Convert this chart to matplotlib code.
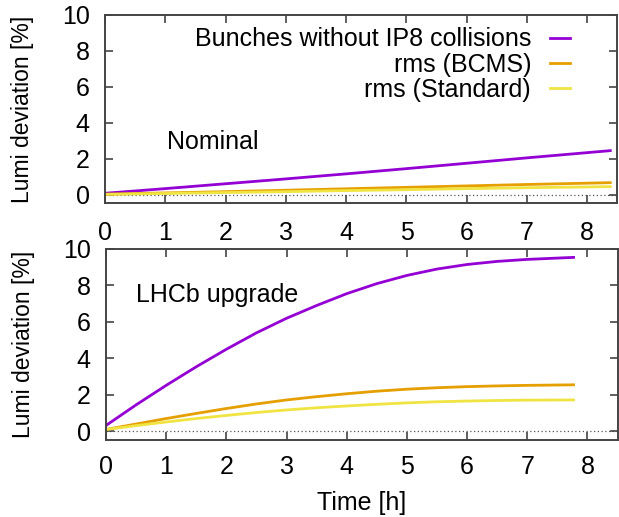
import numpy as np
import matplotlib.pyplot as plt

plt.rcParams['font.family'] = ['Liberation Sans', 'DejaVu Sans']

# time axis [h] and luminosity deviations [%]
t_nom = [0, 1, 2, 3, 4, 5, 6, 7, 8.38]
nom_bunches = [0.09, 0.35, 0.62, 0.89, 1.17, 1.46, 1.76, 2.06, 2.46]
nom_bcms = [0.04, 0.11, 0.18, 0.26, 0.34, 0.42, 0.50, 0.58, 0.68]
nom_std = [0.03, 0.08, 0.13, 0.18, 0.24, 0.29, 0.35, 0.40, 0.46]

t_up = [0, 0.5, 1, 1.5, 2, 2.5, 3, 3.5, 4, 4.5, 5, 5.5, 6, 6.5, 7, 7.77]
up_bunches = [0.32, 1.45, 2.52, 3.54, 4.5, 5.4, 6.2, 6.9, 7.55, 8.1, 8.55, 8.9, 9.15, 9.32, 9.43, 9.54]
up_bcms = [0.10, 0.40, 0.70, 0.98, 1.25, 1.50, 1.72, 1.90, 2.06, 2.20, 2.31, 2.39, 2.45, 2.49, 2.52, 2.55]
up_std = [0.10, 0.31, 0.51, 0.70, 0.87, 1.03, 1.17, 1.29, 1.39, 1.48, 1.56, 1.62, 1.66, 1.69, 1.71, 1.72]

labels = ['Bunches without IP8 collisions', 'rms (BCMS)', 'rms (Standard)']
colors = ['#9400d3', '#e69f00', '#f0e442']
xticks = [0, 1, 2, 3, 4, 5, 6, 7, 8]
yticks = [0, 2, 4, 6, 8, 10]

fs = 18

fig = plt.figure(figsize=(6.19, 5.17), dpi=100)
ax1 = fig.add_axes([105/619, 1 - 203/517, 512.5/619, 188/517])
ax2 = fig.add_axes([106/619, 1 - 439.5/517, 511.5/619, 190.5/517])

for ax, t, series in [(ax1, t_nom, [nom_bunches, nom_bcms, nom_std]),
                      (ax2, t_up, [up_bunches, up_bcms, up_std])]:
    ax.axhline(0, color='#555555', lw=0.9, ls=(0, (1, 2)), zorder=1)
    for y, c, lab in zip(series, colors, labels):
        ax.plot(t, y, color=c, lw=2.0, label=lab, zorder=2)
    ax.set_xlim(0, 8.5)
    ax.set_ylim(-0.45, 10)
    ax.set_xticks(xticks)
    ax.set_yticks(yticks)
    ax.tick_params(direction='in', length=6, width=1.2, color='#444444',
                   labelsize=fs, top=True, right=True)
    ax.tick_params(axis='y', pad=11)
    for s in ax.spines.values():
        s.set_color('#444444')
        s.set_linewidth(1.4)
    ax.set_ylabel('Lumi deviation [%]', fontsize=16.5)
    ax.yaxis.set_label_coords(-0.138, 0.5)

ax1.tick_params(axis='x', pad=13)
ax2.tick_params(axis='x', pad=11)
ax2.set_xlabel('Time [h]', fontsize=fs, labelpad=9)

ax1.text(1.03, 2.95, 'Nominal', fontsize=fs, va='center', ha='left')
ax2.text(0.5, 7.48, 'LHCb upgrade', fontsize=fs, va='center', ha='left')

ax1.legend(loc='upper right', bbox_to_anchor=(0.946, 1.04), frameon=False,
           fontsize=fs, markerfirst=False, handlelength=0.8,
           handletextpad=0.75, labelspacing=0.05, borderpad=0.3)

fig.savefig('out.png', dpi=100)
